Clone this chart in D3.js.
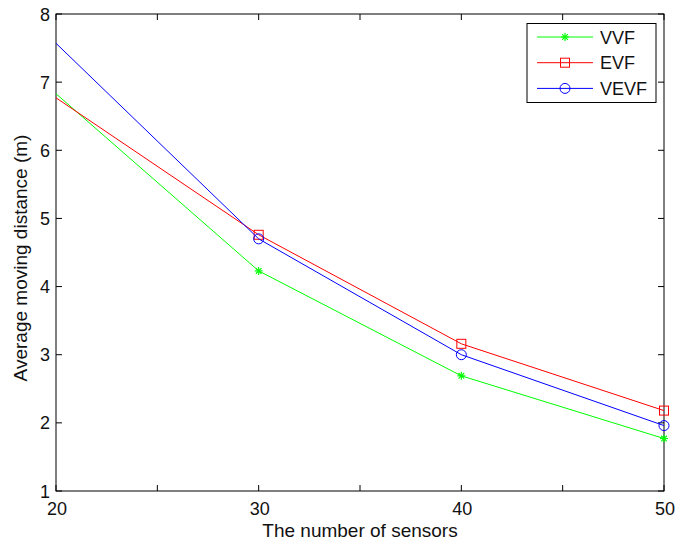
<!DOCTYPE html>
<html>
<head>
<meta charset="utf-8">
<script src="https://cdn.jsdelivr.net/npm/d3@7"></script>
<style>
  body { margin: 0; background: #fff; }
  text { font-family: "Liberation Sans", Arial, sans-serif; fill: #111; }
</style>
</head>
<body>
<svg id="chart" width="675" height="544"></svg>
<script>
const sensors = [20, 30, 40, 50];
const vvf = [6.83, 4.23, 2.69, 1.77];
const evf = [6.77, 4.76, 3.16, 2.18];
const vevf = [7.57, 4.70, 3.00, 1.96];
const seriesNames = ["VVF", "EVF", "VEVF"];
const xTicks = [20, 25, 30, 35, 40, 45, 50];
const xTickLabels = [20, 30, 40, 50];
const yTicks = [1, 2, 3, 4, 5, 6, 7, 8];

const svg = d3.select("#chart");
const mLeft = 56, mRight = 664, mTop = 14, mBottom = 491;
const TICK = 6;

const x = d3.scaleLinear().domain([20, 50]).range([mLeft, mRight]);
const y = d3.scaleLinear().domain([1, 8]).range([mBottom, mTop]);

const series = [
  { name: seriesNames[0], values: vvf, color: "#00ff00", marker: "star" },
  { name: seriesNames[1], values: evf, color: "#ff0000", marker: "square" },
  { name: seriesNames[2], values: vevf, color: "#0000ff", marker: "circle" }
];

// box
svg.append("rect")
  .attr("x", mLeft).attr("y", mTop)
  .attr("width", mRight - mLeft).attr("height", mBottom - mTop)
  .attr("fill", "none").attr("stroke", "#000").attr("stroke-width", 1);

// inward ticks on all four sides
xTicks.forEach(t => {
  svg.append("line").attr("x1", x(t)).attr("x2", x(t))
    .attr("y1", mBottom).attr("y2", mBottom - TICK).attr("stroke", "#000");
  svg.append("line").attr("x1", x(t)).attr("x2", x(t))
    .attr("y1", mTop).attr("y2", mTop + TICK).attr("stroke", "#000");
});
yTicks.forEach(t => {
  svg.append("line").attr("x1", mLeft).attr("x2", mLeft + TICK)
    .attr("y1", y(t)).attr("y2", y(t)).attr("stroke", "#000");
  svg.append("line").attr("x1", mRight).attr("x2", mRight - TICK)
    .attr("y1", y(t)).attr("y2", y(t)).attr("stroke", "#000");
});

svg.selectAll(".xlab").data(xTickLabels).enter().append("text")
  .attr("x", d => x(d) + 1).attr("y", 515)
  .attr("text-anchor", "middle").attr("font-size", 18).text(d => d);

svg.selectAll(".ylab").data(yTicks).enter().append("text")
  .attr("x", mLeft - 6).attr("y", d => y(d) + 6.5)
  .attr("text-anchor", "end").attr("font-size", 18).text(d => d);

svg.append("text").attr("x", (mLeft + mRight) / 2).attr("y", 537)
  .attr("text-anchor", "middle").attr("font-size", 19)
  .text("The number of sensors");

svg.append("text")
  .attr("transform", `translate(27,258) rotate(-90)`)
  .attr("text-anchor", "middle").attr("font-size", 19)
  .text("Average moving distance (m)");

function drawMarker(g, type, cx, cy, color) {
  if (type === "square") {
    g.append("rect").attr("x", cx - 4.5).attr("y", cy - 4.5)
      .attr("width", 9).attr("height", 9)
      .attr("fill", "none").attr("stroke", color).attr("stroke-width", 1);
  } else if (type === "circle") {
    g.append("circle").attr("cx", cx).attr("cy", cy).attr("r", 5)
      .attr("fill", "none").attr("stroke", color).attr("stroke-width", 1);
  } else {
    const r = 4;
    [0, 45, 90, 135].forEach(a => {
      const rad = a * Math.PI / 180;
      g.append("line")
        .attr("x1", cx - r * Math.cos(rad)).attr("y1", cy - r * Math.sin(rad))
        .attr("x2", cx + r * Math.cos(rad)).attr("y2", cy + r * Math.sin(rad))
        .attr("stroke", color).attr("stroke-width", 1.2);
    });
  }
}

const line = d3.line().x((d, i) => x(sensors[i])).y(d => y(d));

series.forEach(s => {
  svg.append("path").datum(s.values)
    .attr("d", line).attr("fill", "none")
    .attr("stroke", s.color).attr("stroke-width", 1);
  const g = svg.append("g");
  s.values.forEach((v, i) => {
    if (i > 0) drawMarker(g, s.marker, x(sensors[i]), y(v), s.color);
  });
});

// legend
const lg = svg.append("g");
lg.append("rect").attr("x", 527).attr("y", 23.5)
  .attr("width", 129).attr("height", 79)
  .attr("fill", "#fff").attr("stroke", "#000").attr("stroke-width", 1);
series.forEach((s, i) => {
  const ly = 37 + i * 25.7;
  lg.append("line").attr("x1", 537).attr("x2", 593)
    .attr("y1", ly).attr("y2", ly).attr("stroke", s.color);
  drawMarker(lg, s.marker, 565, ly, s.color);
  lg.append("text").attr("x", 600).attr("y", ly + 6.5)
    .attr("font-size", 18).text(s.name);
});
</script>
</body>
</html>
